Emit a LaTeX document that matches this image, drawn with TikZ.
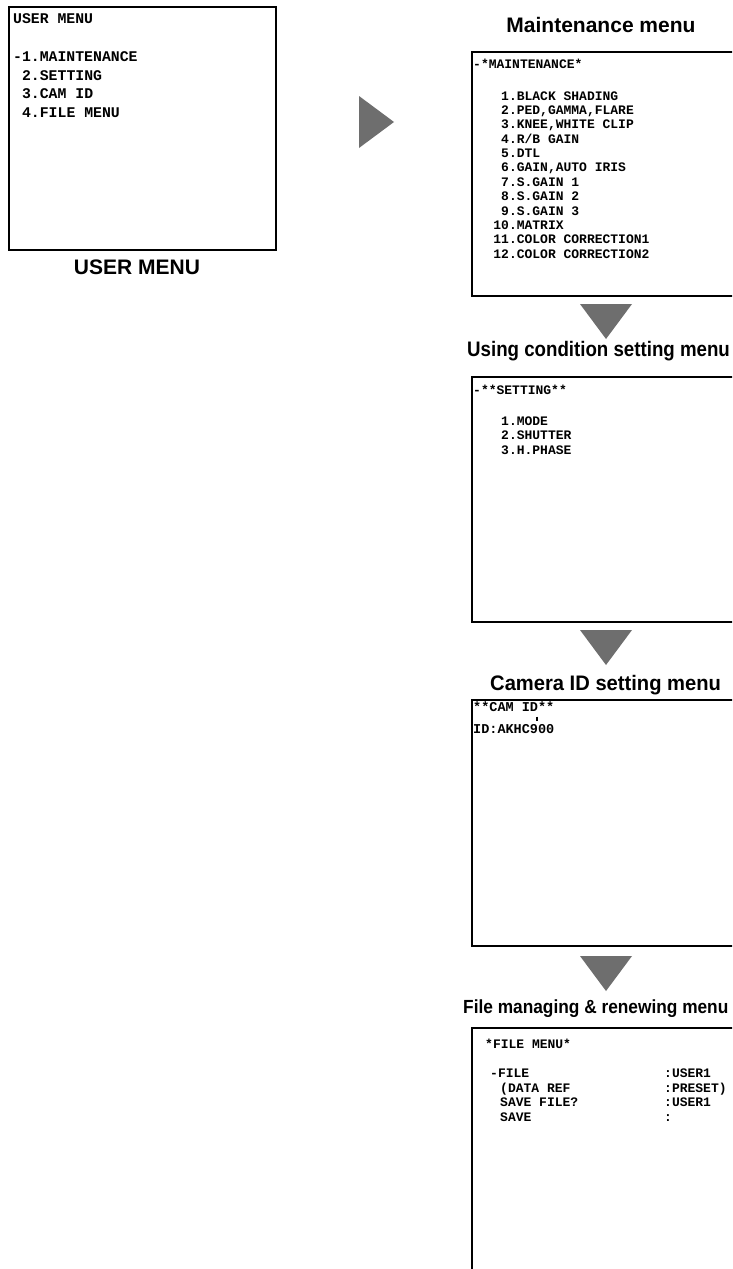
\documentclass[tikz,border=0pt]{standalone}
\usepackage{fontspec}
\setmainfont{Liberation Sans}
\setmonofont{Liberation Mono}
\usepackage{graphicx}
\definecolor{arrowgray}{HTML}{6E6E6E}
\begin{document}
\begin{tikzpicture}[x=1pt,y=-1pt,
  screen/.style={draw=black, line width=1.6pt},
  umenu/.style={font=\ttfamily\bfseries\fontsize{14.8}{18}\selectfont, anchor=base west, inner sep=0pt},
  menu/.style={font=\ttfamily\bfseries\fontsize{13}{15}\selectfont, anchor=base west, inner sep=0pt},
  title/.style={font=\bfseries\fontsize{21}{24}\selectfont, inner sep=0pt},
  tri/.style={fill=arrowgray, draw=none}]
\useasboundingbox (0,0) rectangle (732,1269);
\clip (0,0) rectangle (732,1269);
\fill[white] (0,0) rectangle (732,1269);

% ---------- USER MENU ----------
\draw[screen] (9,7) rectangle (276,250);
\node[umenu] (u0) at (13,23) {USER MENU};
\node[umenu] (u1) at (13,61) {-1.MAINTENANCE};
\node[umenu] (u2) at (21.9,80) {2.SETTING};
\node[umenu] (u3) at (21.9,98.7) {3.CAM ID};
\node[umenu] (u4) at (21.9,117.3) {4.FILE MENU};
\node[title, anchor=base] (ucap) at (137,274) {USER MENU};

% right arrow
\fill[tri] (359,96) -- (394,122) -- (359,148) -- cycle;

% ---------- MAINTENANCE ----------
\node[title, anchor=base] (mt) at (601,32) {Maintenance menu};
\draw[screen] (472,52) rectangle (745,296);
\node[menu] (m0) at (473,68.5) {-*MAINTENANCE*};
\node[menu] (m1) at (501,100) {1.BLACK SHADING};
\node[menu] (m2) at (501,114.4) {2.PED,GAMMA,FLARE};
\node[menu] (m3) at (501,128.8) {3.KNEE,WHITE CLIP};
\node[menu] (m4) at (501,143.1) {4.R/B GAIN};
\node[menu] (m5) at (501,157.5) {5.DTL};
\node[menu] (m6) at (501,171.9) {6.GAIN,AUTO IRIS};
\node[menu] (m7) at (501,186.3) {7.S.GAIN 1};
\node[menu] (m8) at (501,200.7) {8.S.GAIN 2};
\node[menu] (m9) at (501,215.1) {9.S.GAIN 3};
\node[menu] (m10) at (493.2,229.5) {10.MATRIX};
\node[menu] (m11) at (493.2,243.9) {11.COLOR CORRECTION1};
\node[menu] (m12) at (493.2,258.3) {12.COLOR CORRECTION2};

\fill[tri] (580,304) -- (632,304) -- (606,339) -- cycle;

% ---------- SETTING ----------
\node[title, anchor=base west] (st) at (467,356) {\scalebox{0.89}[1]{Using condition setting menu}};
\draw[screen] (472,377) rectangle (745,622);
\node[menu] (s0) at (473,394) {-**SETTING**};
\node[menu] (s1) at (501,425) {1.MODE};
\node[menu] (s2) at (501,439.5) {2.SHUTTER};
\node[menu] (s3) at (501,454) {3.H.PHASE};

\fill[tri] (580,630) -- (632,630) -- (606,665) -- cycle;

% ---------- CAM ID ----------
\node[title, anchor=base west] (ct) at (490,690) {\scalebox{0.96}[1]{Camera ID setting menu}};
\draw[screen] (472,700) rectangle (745,946);
\node[menu, font=\ttfamily\bfseries\fontsize{13.5}{15}\selectfont] (c0) at (473,711) {**CAM ID**};
\draw[line width=1.1pt] (537,716.5) -- (537,720.5);
\node[menu, font=\ttfamily\bfseries\fontsize{13.5}{15}\selectfont] (c1) at (473,733) {ID:AKHC900};

\fill[tri] (580,956) -- (632,956) -- (606,991) -- cycle;

% ---------- FILE MENU ----------
\node[title, anchor=base west, font=\bfseries\fontsize{19}{22}\selectfont] (ft) at (463,1013) {\scalebox{0.91}[1]{File managing \& renewing menu}};
\draw[screen] (472,1290) -- (472,1028) -- (745,1028);
\node[menu] (f0) at (485,1048) {*FILE MENU*};
\node[menu] (f1) at (490,1077) {-FILE};
\node[menu] (f2) at (500,1092) {(DATA REF};
\node[menu] (f3) at (500,1106.5) {SAVE FILE?};
\node[menu] (f4) at (500,1121) {SAVE};
\node[menu] (g1) at (664,1077) {:USER1};
\node[menu] (g2) at (664,1092) {:PRESET)};
\node[menu] (g3) at (664,1106.5) {:USER1};
\node[menu] (g4) at (664,1121) {:};
\end{tikzpicture}
\end{document}
